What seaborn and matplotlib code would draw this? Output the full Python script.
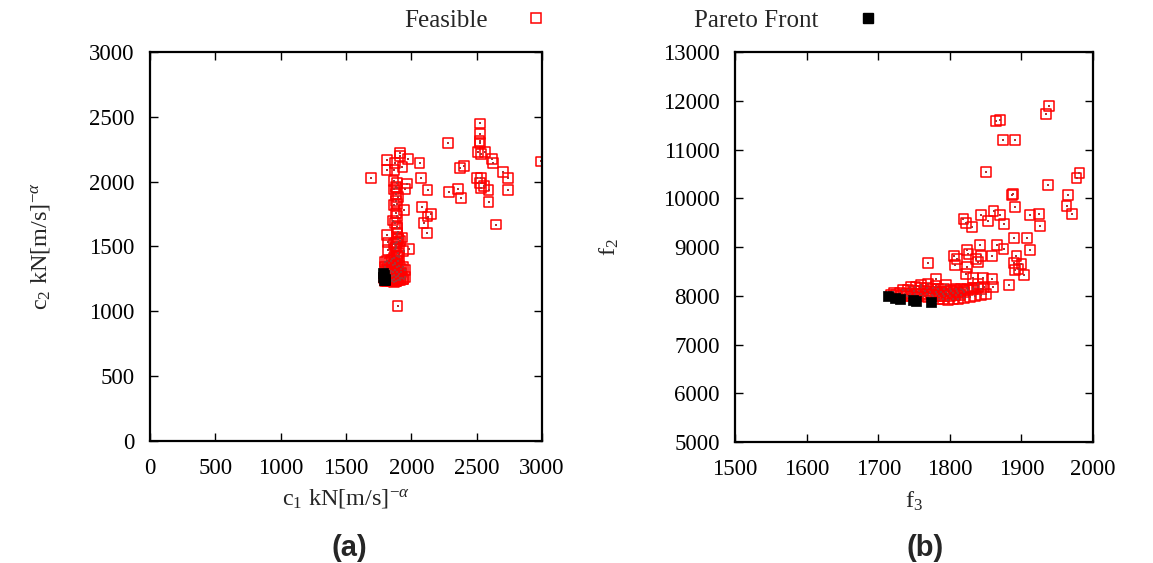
import matplotlib
matplotlib.use("Agg")
import matplotlib.pyplot as plt
import seaborn as sns
import pandas as pd
from matplotlib.lines import Line2D

sns.set_theme(style="white")
plt.rcParams['font.family'] = ['Liberation Serif', 'DejaVu Serif']
plt.rcParams['mathtext.fontset'] = 'custom'
plt.rcParams['mathtext.rm'] = 'Liberation Serif'
plt.rcParams['mathtext.it'] = 'Liberation Serif:italic'

# ---------------- data: panel (a) c1 vs c2 ----------------
feas_c1 = [1690, 1813, 1813, 1876, 1871, 1915, 1915, 1973, 1932, 2063, 2073, 1864, 1889, 1966,
           1953, 1889, 2124, 1884, 1889, 1945, 1889, 2083, 2150, 2124, 2093, 2119, 2280, 2527,
           2527, 2522, 2527, 2510, 2561, 2535, 2617, 2622, 2400, 2374, 2699, 2737, 2502, 2535,
           2527, 2553, 2532, 2591, 2737, 2285, 2354, 2377, 2591, 2645, 2992, 1894,
           1813, 1818, 1818, 1889, 1894, 1927, 1889, 1884, 1979, 1940, 1902, 1894, 1876, 1953,
           1940, 1880, 1870, 1885, 1895, 1860, 1875, 1890, 1900, 1910, 1865, 1880, 1895, 1905,
           1850, 1870, 1890, 1800, 1815, 1830, 1845, 1860, 1875, 1890, 1905, 1920, 1935, 1950,
           1800, 1815, 1830, 1845, 1860, 1875, 1890, 1905, 1920, 1810, 1825, 1840, 1855, 1870,
           1885, 1900, 1915, 1790, 1805, 1820, 1835, 1850, 1865, 1880, 1895, 1910, 1925, 1940,
           1795, 1810, 1825, 1840, 1855, 1870, 1885, 1900, 1870, 1880, 1890, 1900, 1885, 1875]
feas_c2 = [2031, 2167, 2090, 2146, 2090, 2218, 2197, 2172, 2113, 2141, 2031, 2005, 1992, 1985,
           1941, 1949, 1938, 1851, 1826, 1779, 1736, 1805, 1749, 1731, 1684, 1605, 2300, 2449,
           2367, 2313, 2295, 2231, 2231, 2210, 2177, 2146, 2120, 2103, 2077, 2031, 2031, 2031,
           1992, 1967, 1954, 1933, 1938, 1920, 1941, 1877, 1846, 1669, 2156, 1038,
           1587, 1531, 1472, 1651, 1608, 1569, 1531, 1492, 1479, 1467, 1428, 1390, 1364, 1262,
           1249, 1960, 1940, 1905, 1880, 1700, 1680, 1640, 1560, 1540, 1520, 1500, 1450, 1420,
           1400, 1410, 1430, 1380, 1385, 1370, 1390, 1360, 1375, 1345, 1350, 1330, 1340, 1320,
           1340, 1330, 1320, 1310, 1300, 1315, 1305, 1290, 1300, 1290, 1280, 1295, 1270, 1280,
           1265, 1275, 1260, 1260, 1250, 1255, 1245, 1240, 1250, 1235, 1245, 1240, 1255, 1250,
           1230, 1235, 1240, 1230, 1235, 1225, 1230, 1240, 1820, 1760, 1600, 1560, 1530, 1480]
pareto_c1 = [1783, 1790, 1785, 1795, 1800, 1790]
pareto_c2 = [1295, 1280, 1265, 1250, 1245, 1238]

# ---------------- data: panel (b) f3 vs f2 ----------------
feas_f3 = [1939, 1934, 1865, 1870, 1874, 1891, 1850, 1981, 1977, 1937, 1887, 1888, 1965, 1963,
           1971, 1891, 1819, 1823, 1831, 1844, 1853, 1861, 1870, 1876, 1912, 1925, 1926, 1890,
           1908, 1912, 1842, 1866, 1875, 1824, 1826, 1806, 1810, 1807, 1824, 1837, 1839, 1844,
           1859, 1893, 1890, 1900, 1891, 1896, 1903, 1770, 1781, 1822, 1832, 1846, 1859, 1860,
           1883, 1839, 1844,
           1718, 1725, 1732, 1740, 1747, 1755, 1762, 1770, 1777, 1785, 1792, 1800, 1808, 1815,
           1722, 1730, 1738, 1745, 1752, 1760, 1768, 1775, 1782, 1790, 1798, 1805, 1812, 1820,
           1735, 1742, 1750, 1757, 1765, 1772, 1780, 1788, 1795, 1802, 1810, 1818, 1826, 1833,
           1745, 1752, 1760, 1768, 1776, 1784, 1792, 1800, 1808, 1816, 1824, 1832, 1840, 1848,
           1785, 1790, 1797, 1805, 1812, 1820, 1828, 1835, 1843, 1850, 1760, 1770, 1780, 1795]
feas_f2 = [11893, 11729, 11578, 11612, 11195, 11195, 10539, 10525, 10423, 10265, 10060, 10094,
           10074, 9841, 9684, 9821, 9568, 9493, 9411, 9663, 9527, 9732, 9650, 9479, 9663, 9684,
           9424, 9192, 9192, 8946, 9048, 9041, 8959, 8946, 8863, 8809, 8747, 8624, 8590, 8761,
           8693, 8809, 8809, 8809, 8672, 8645, 8522, 8556, 8419, 8672, 8344, 8453, 8371, 8371,
           8337, 8180, 8228, 8248, 8146,
           8020, 8010, 8000, 7995, 7990, 7985, 7985, 7980, 7985, 7990, 7995, 8000, 8010, 8020,
           8060, 8050, 8045, 8040, 8035, 8030, 8030, 8025, 8030, 8035, 8040, 8050, 8060, 8070,
           8120, 8110, 8100, 8095, 8090, 8085, 8080, 8080, 8085, 8090, 8100, 8110, 8120, 8130,
           8190, 8180, 8170, 8160, 8150, 8140, 8135, 8130, 8135, 8140, 8150, 8160, 8170, 8180,
           7930, 7925, 7920, 7930, 7940, 7955, 7970, 7990, 8010, 8030, 8220, 8240, 8210, 8230]
pareto_f3 = [1714, 1723, 1730, 1748, 1753, 1773]
pareto_f2 = [7988, 7954, 7933, 7920, 7892, 7879]

df_a = pd.DataFrame({"x": feas_c1, "y": feas_c2})
dp_a = pd.DataFrame({"x": pareto_c1, "y": pareto_c2})
df_b = pd.DataFrame({"x": feas_f3, "y": feas_f2})
dp_b = pd.DataFrame({"x": pareto_f3, "y": pareto_f2})

fig = plt.figure(figsize=(11.53, 5.63), dpi=100)
axa = fig.add_axes([0.1301, 0.2167, 0.3400, 0.6910])
axb = fig.add_axes([0.6375, 0.2149, 0.3105, 0.6927])

TICK_FS = 16.5
LAB_FS = 17.5
RED = "#ff0000"


def draw(ax, df, dp):
    sns.scatterplot(data=df, x="x", y="y", ax=ax, marker="s", s=50,
                    facecolor="none", edgecolor=RED, linewidth=1.1, legend=False, zorder=2)
    sns.scatterplot(data=df, x="x", y="y", ax=ax, marker="s", s=1.4,
                    color="#b03030", linewidth=0, legend=False, zorder=2)
    sns.scatterplot(data=dp, x="x", y="y", ax=ax, marker="s", s=54,
                    color="black", edgecolor="black", linewidth=0.5, legend=False, zorder=3)
    for sp in ax.spines.values():
        sp.set_visible(True)
        sp.set_color("black")
        sp.set_linewidth(1.6)
    ax.tick_params(direction="in", length=6, width=1.0, top=True, right=True,
                   bottom=True, left=True, labelsize=TICK_FS, colors="black")
    ax.tick_params(axis="x", pad=12)
    ax.tick_params(axis="y", pad=11)
    ax.grid(False)
    ax.set_facecolor("white")


draw(axa, df_a, dp_a)
axa.set_xlim(0, 3000)
axa.set_ylim(0, 3000)
axa.set_xticks(range(0, 3001, 500))
axa.set_yticks(range(0, 3001, 500))
axa.set_xlabel(r"c$_1$ kN[m/s]$^{-\alpha}$", fontsize=LAB_FS, labelpad=6)
axa.set_ylabel(r"c$_2$ kN[m/s]$^{-\alpha}$", fontsize=LAB_FS, labelpad=27)

draw(axb, df_b, dp_b)
axb.set_xlim(1500, 2000)
axb.set_ylim(5000, 13000)
axb.set_xticks(range(1500, 2001, 100))
axb.set_yticks(range(5000, 13001, 1000))
axb.set_xlabel(r"f$_3$", fontsize=LAB_FS, labelpad=7)
axb.set_ylabel(r"f$_2$", fontsize=LAB_FS, labelpad=30)

fig.text(0.3027, 0.0266, "(a)", fontsize=21, fontweight="bold",
         family=["Liberation Sans", "DejaVu Sans"], ha="center", va="center")
fig.text(0.8025, 0.0266, "(b)", fontsize=21, fontweight="bold",
         family=["Liberation Sans", "DejaVu Sans"], ha="center", va="center")

h1 = Line2D([], [], linestyle="none", marker="s", markersize=7,
            markerfacecolor="none", markeredgecolor=RED, markeredgewidth=1.1)
h2 = Line2D([], [], linestyle="none", marker="s", markersize=7,
            markerfacecolor="black", markeredgecolor="black")
fig.legend([h1, h2], ["Feasible", "Pareto Front"], loc="center", ncol=2,
           bbox_to_anchor=(0.558, 0.963), frameon=False, markerfirst=False,
           fontsize=18, handlelength=1.2, handletextpad=1.36, columnspacing=5.72,
           borderpad=0.2)

fig.savefig("out.png", dpi=100, facecolor="white")
